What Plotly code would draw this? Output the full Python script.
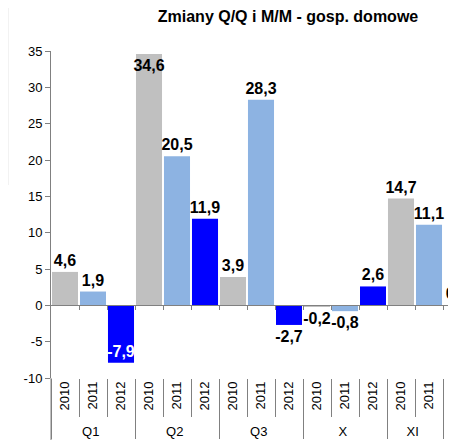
import plotly.graph_objects as go

# --- data -----------------------------------------------------------------
GROUPS = ["Q1", "Q2", "Q3", "X", "XI"]
YEARS = ["2010", "2011", "2012"]
VAL_2010 = [4.6, 34.6, 3.9, -0.2, 14.7]
VAL_2011 = [1.9, 20.5, 28.3, -0.8, 11.1]
VAL_2012 = [-7.9, 11.9, -2.7, 2.6, 0.0]

COLORS = {"2010": "#C0C0C0", "2011": "#8DB3E2", "2012": "#0000FF"}
FONT = "Arial, 'Liberation Sans', sans-serif"
AXIS_GREY = "#808080"

# flatten to one bar per (group, year)
xg, xy, vals, cols = [], [], [], []
for i, g in enumerate(GROUPS):
    for y, series in zip(YEARS, (VAL_2010, VAL_2011, VAL_2012)):
        xg.append(g)
        xy.append(y)
        vals.append(series[i])
        cols.append(COLORS[y])

labels = [f"{v:.1f}".replace(".", ",") for v in vals]
# labels that Excel put inside the bar end
inside = {34.6, -7.9}
tpos = ["inside" if v in inside else "outside" for v in vals]
tcol = ["white" if v == -7.9 else "black" for v in vals]

# the page sits 8px in from the window corner (body margin)
W, H = 448, 432
L, T = 43, 43
PLOT_W = W - L
PLOT_H = 370 - T
B = H - 370

n = len(vals)
x_hi = -0.5 + PLOT_W / 28  # the original picture is cut on the right
bounds = [k + 0.5 for k in range(n - 1)]

fig = go.Figure()
fig.add_trace(go.Bar(
    x=[xg, xy], y=vals,
    marker=dict(color=cols, line=dict(width=0)),
    text=labels, textposition=tpos, insidetextanchor="end", textangle=0,
    textfont=dict(family=FONT, size=16, color=tcol, weight="bold"),
    constraintext="none", cliponaxis=True,
    showlegend=False,
))
# dummy traces so the helper axes get drawn
fig.add_trace(go.Scatter(x=[None], y=[None], xaxis="x2", showlegend=False, hoverinfo="skip"))
fig.add_trace(go.Scatter(x=[None], y=[None], xaxis="x3", showlegend=False, hoverinfo="skip"))

y_lo, y_hi = -10, 35
yticks = list(range(y_lo, y_hi + 1, 5))

fig.update_layout(
    width=W, height=H,
    margin=dict(l=L, r=0, t=T, b=B),
    plot_bgcolor="white", paper_bgcolor="white",
    font=dict(family=FONT, size=13, color="#000000"),
    bargap=0.07,
    title=dict(
        text="<b>Zmiany Q/Q i M/M - gosp. domowe</b>",
        font=dict(size=16, color="#000000"),
        x=(280 - L) / PLOT_W, xanchor="center", xref="paper",
        y=1 - 8 / H, yanchor="middle", yref="container",
    ),
    xaxis=dict(
        type="multicategory", range=[-0.5, x_hi], automargin=False,
        showline=False, showgrid=False, zeroline=False,
        ticks="outside", ticklen=3, tickcolor="rgba(0,0,0,0)",
        tickangle=-90, tickfont=dict(size=13),
        showdividers=True, dividercolor=AXIS_GREY, dividerwidth=1,
    ),
    xaxis2=dict(
        type="linear", overlaying="x", anchor="free",
        position=(0 - y_lo) / (y_hi - y_lo),
        range=[-0.5, x_hi], showgrid=False, zeroline=False,
        showline=True, linecolor=AXIS_GREY, linewidth=1,
        tickmode="array", tickvals=bounds, showticklabels=False,
        ticks="outside", ticklen=4, tickcolor=AXIS_GREY,
    ),
    xaxis3=dict(
        type="linear", overlaying="x", anchor="y",
        range=[-0.5, x_hi], showgrid=False, zeroline=False, showline=False,
        tickmode="array", tickvals=bounds, showticklabels=False,
        ticks="outside", ticklen=38, tickcolor=AXIS_GREY,
    ),
    yaxis=dict(
        range=[y_lo, y_hi], showgrid=False, zeroline=False, automargin=False,
        showline=True, linecolor=AXIS_GREY, linewidth=1,
        tickmode="array", tickvals=yticks,
        ticktext=[str(t) for t in yticks],
        ticks="outside", ticklen=5, tickcolor=AXIS_GREY,
        tickfont=dict(size=13),
    ),
    shapes=[
        # axis line carried down through the category labels
        dict(type="line", xref="paper", yref="paper", x0=0, x1=0,
             y0=0, y1=-B / PLOT_H, line=dict(color=AXIS_GREY, width=1)),
        # faint frame left over at the left edge of the original
        dict(type="line", xref="paper", yref="paper",
             x0=-L / PLOT_W, x1=-L / PLOT_W, y0=1 + T / PLOT_H, y1=(370 - 177) / PLOT_H,
             line=dict(color="#E6E6E6", width=1)),
    ],
)

fig.write_html("out.html")
